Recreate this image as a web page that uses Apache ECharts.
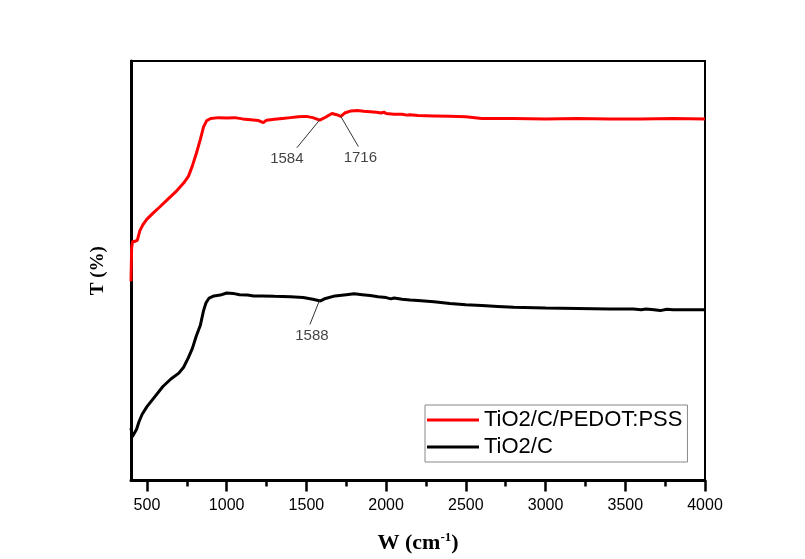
<!DOCTYPE html>
<html>
<head>
<meta charset="utf-8">
<title>FTIR</title>
<script src="https://cdn.jsdelivr.net/npm/echarts@6/dist/echarts.min.js"></script>
<style>html,body{margin:0;padding:0;background:#fff;}</style>
</head>
<body>
<div id="main" style="width:805px;height:559px;"></div>
<script>
// wavenumber (cm-1) / transmittance (arbitrary units)
var pedotW = [400, 404, 410, 425, 440, 455, 475, 500, 540, 580, 630, 680, 730, 760, 785, 810, 835, 855, 875, 900, 950, 1000, 1050, 1100, 1150, 1200, 1230, 1250, 1300, 1350, 1400, 1450, 1500, 1540, 1584, 1620, 1660, 1690, 1716, 1740, 1780, 1820, 1860, 1900, 1940, 1970, 1985, 2000, 2050, 2100, 2130, 2150, 2200, 2300, 2400, 2500, 2600, 2700, 2800, 3000, 3200, 3400, 3600, 3800, 4000];
var pedotT = [47.5, 55.5, 57.0, 57.0, 57.3, 59.5, 61.0, 62.3, 63.8, 65.2, 67.0, 68.8, 70.9, 72.5, 75.0, 78.0, 81.3, 84.3, 85.8, 86.3, 86.5, 86.4, 86.5, 86.2, 86.0, 85.8, 85.3, 85.9, 86.1, 86.3, 86.5, 86.7, 86.8, 86.5, 85.9, 86.6, 87.5, 87.2, 86.8, 87.6, 88.1, 88.2, 88.0, 87.9, 87.8, 87.6, 87.8, 87.5, 87.3, 87.3, 87.1, 87.2, 87.0, 86.9, 86.8, 86.7, 86.3, 86.3, 86.3, 86.2, 86.3, 86.2, 86.2, 86.3, 86.2];

var tcW = [400, 408, 420, 435, 450, 470, 500, 550, 600, 650, 700, 730, 760, 785, 810, 835, 855, 870, 890, 920, 960, 1000, 1040, 1080, 1130, 1170, 1220, 1300, 1400, 1480, 1540, 1588, 1620, 1680, 1750, 1800, 1850, 1900, 1950, 2000, 2030, 2050, 2100, 2150, 2200, 2300, 2400, 2500, 2600, 2700, 2800, 3000, 3200, 3400, 3550, 3600, 3630, 3680, 3720, 3760, 3800, 4000];
var tcT = [12.5, 10.4, 10.8, 12.2, 14.0, 15.8, 17.6, 20.0, 22.4, 24.2, 25.6, 27.0, 29.3, 31.5, 34.5, 37.0, 40.5, 42.3, 43.5, 44.0, 44.2, 44.7, 44.6, 44.3, 44.2, 44.0, 44.0, 43.9, 43.8, 43.6, 43.2, 42.8, 43.4, 44.0, 44.3, 44.5, 44.3, 44.1, 43.8, 43.6, 43.3, 43.5, 43.2, 43.0, 42.9, 42.6, 42.2, 41.9, 41.7, 41.5, 41.3, 41.1, 41.0, 40.9, 40.9, 40.7, 40.9, 40.7, 40.5, 40.8, 40.7, 40.7];

var majorTicks = [500, 1000, 1500, 2000, 2500, 3000, 3500, 4000];
var minorTicks = [750, 1250, 1750, 2250, 2750, 3250, 3750];

// peak annotations: label, point on curve, end of leader line
var peakLabels = ['1584', '1716', '1588'];
var peakFrom = [[1584, 86.0], [1714, 86.9], [1582, 42.9]];
var peakTo = [[1440, 79.3], [1826, 79.6], [1522, 37.2]];
var peakOffset = [[-10, 0], [2, 0], [2, 0]];

function zip(a, b) {
  var out = [];
  for (var i = 0; i < a.length; i++) out.push([a[i], b[i]]);
  return out;
}

var myChart = echarts.init(document.getElementById('main'));

var series = [
  {
    name: 'TiO2/C/PEDOT:PSS',
    type: 'line',
    data: zip(pedotW, pedotT),
    symbol: 'none',
    lineStyle: {color: '#ff0000', width: 3},
    itemStyle: {color: '#ff0000'},
    z: 3
  },
  {
    name: 'TiO2/C',
    type: 'line',
    data: zip(tcW, tcT),
    symbol: 'none',
    lineStyle: {color: '#000000', width: 3},
    itemStyle: {color: '#000000'},
    z: 3
  }
];

var labelPts = [];
for (var i = 0; i < peakLabels.length; i++) {
  // leader line
  series.push({
    type: 'line',
    symbol: 'none',
    silent: true,
    lineStyle: {color: '#333', width: 1},
    data: [peakFrom[i], peakTo[i]],
    z: 4
  });
  labelPts.push({
    value: peakTo[i],
    label: {formatter: peakLabels[i], offset: peakOffset[i]}
  });
}

// peak label texts
series.push({
  type: 'scatter',
  symbolSize: 0,
  silent: true,
  data: labelPts,
  label: {
    show: true,
    position: 'bottom',
    distance: 4,
    color: '#111',
    fontSize: 15,
    fontFamily: 'Liberation Sans, Arial, sans-serif'
  },
  z: 5
});

var option = {
  animation: false,
  backgroundColor: '#fff',
  grid: {
    left: 131, right: 100, top: 61, bottom: 78,
    show: true, borderColor: '#000', borderWidth: 2
  },
  legend: {
    data: ['TiO2/C/PEDOT:PSS', 'TiO2/C'],
    orient: 'vertical',
    left: 425,
    top: 405,
    icon: 'rect',
    itemWidth: 52,
    itemHeight: 3,
    itemGap: 5,
    padding: [4, 5, 4, 2],
    borderColor: '#888',
    borderWidth: 1,
    textStyle: {
      fontSize: 22,
      lineHeight: 22,
      color: '#000',
      fontFamily: 'Liberation Sans, Arial, sans-serif'
    }
  },
  xAxis: [
    {
      type: 'value',
      min: 400,
      max: 4000,
      name: 'W (cm{sup|-1})',
      nameLocation: 'middle',
      nameGap: 51,
      nameTextStyle: {
        fontFamily: 'Liberation Serif, Times New Roman, serif',
        fontWeight: 'bold',
        fontSize: 22,
        color: '#000',
        rich: {
          sup: {
            fontFamily: 'Liberation Serif, Times New Roman, serif',
            fontWeight: 'bold',
            fontSize: 13,
            color: '#000',
            verticalAlign: 'top',
            padding: [0, 0, 10, 0]
          }
        }
      },
      axisLine: {lineStyle: {color: '#000', width: 3}},
      axisTick: {
        customValues: majorTicks,
        length: 11,
        lineStyle: {color: '#000', width: 2.5}
      },
      axisLabel: {
        customValues: majorTicks,
        formatter: function (v) { return String(v); },
        color: '#000',
        fontSize: 16,
        margin: 17,
        fontFamily: 'Liberation Sans, Arial, sans-serif'
      },
      splitLine: {show: false}
    },
    {
      type: 'value',
      min: 400,
      max: 4000,
      position: 'bottom',
      axisLine: {show: false},
      axisTick: {
        customValues: minorTicks,
        length: 6,
        lineStyle: {color: '#000', width: 2.5}
      },
      axisLabel: {show: false},
      splitLine: {show: false}
    }
  ],
  yAxis: {
    type: 'value',
    min: 0,
    max: 100,
    name: 'T (%)',
    nameLocation: 'middle',
    nameGap: 23,
    nameTextStyle: {
      fontFamily: 'Liberation Serif, Times New Roman, serif',
      fontWeight: 'bold',
      fontSize: 19,
      color: '#000'
    },
    axisLine: {show: true, lineStyle: {color: '#000', width: 3}},
    axisTick: {show: false},
    axisLabel: {show: false},
    splitLine: {show: false}
  },
  series: series
};

myChart.setOption(option);
</script>
</body>
</html>
